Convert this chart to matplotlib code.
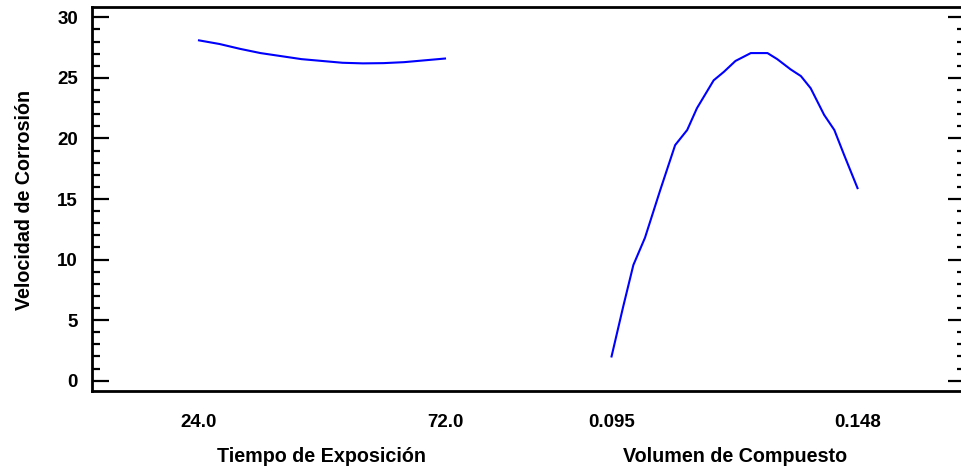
"""Main effects plot for corrosion rate (two factors side by side)."""

import matplotlib
matplotlib.use("Agg")
import matplotlib.pyplot as plt
import matplotlib.transforms as mtransforms
from matplotlib.ticker import MultipleLocator

plt.rcParams["font.family"] = ["Liberation Sans", "DejaVu Sans"]
plt.rcParams["font.weight"] = "bold"

# Factor 1: exposure time (h)
tiempo = [24, 28, 32, 36, 40, 44, 48, 52, 56, 60, 64, 68, 72]
vel_tiempo = [28.1, 27.8, 27.4, 27.05, 26.8, 26.55, 26.4, 26.25, 26.2, 26.22, 26.3, 26.45, 26.6]

# Factor 2: compound volume
volumen = [0.0949, 0.0974, 0.0996, 0.1021, 0.1054, 0.1086, 0.1112, 0.1133, 0.1169, 0.1191,
           0.1216, 0.1249, 0.1285, 0.1306, 0.1335, 0.1357, 0.1378, 0.1407, 0.1429, 0.1450, 0.1479]
vel_volumen = [2.0, 6.1, 9.55, 11.8, 15.75, 19.45, 20.7, 22.5, 24.8, 25.5,
               26.4, 27.05, 27.05, 26.55, 25.7, 25.15, 24.15, 21.95, 20.7, 18.65, 15.9]

factores = ["Tiempo de Exposición", "Volumen de Compuesto"]
bajo = [24.0, 0.095]
alto = [72.0, 0.148]
etiquetas_bajo = ["24.0", "0.095"]
etiquetas_alto = ["72.0", "0.148"]

# each factor is drawn on [offset, offset + 1] in coded units
offsets = [0.0, 1.679]


def coded(vals, lo, hi, off):
    return [off + (v - lo) / (hi - lo) for v in vals]


fig = plt.figure(figsize=(9.61, 4.70), dpi=100)
ax = fig.add_axes([92 / 961, 1 - 390.5 / 470, (965 - 92) / 961, (390.5 - 7.3) / 470])

ax.plot(coded(tiempo, bajo[0], alto[0], offsets[0]), vel_tiempo, color="#0000ff", lw=1.5)
ax.plot(coded(volumen, bajo[1], alto[1], offsets[1]), vel_volumen, color="#0000ff", lw=1.5)

ax.set_xlim(-0.435, 3.114)
ax.set_ylim(-0.81, 30.83)

ticks = []
labels = []
for off, lo_lab, hi_lab in zip(offsets, etiquetas_bajo, etiquetas_alto):
    ticks += [off, off + 1]
    labels += [lo_lab, hi_lab]
ax.set_xticks(ticks)
ax.set_xticklabels(labels, fontsize=13.5, fontweight="bold")
ax.tick_params(axis="x", length=0, pad=17)

ax.yaxis.set_major_locator(MultipleLocator(5))
ax.yaxis.set_minor_locator(MultipleLocator(1))
ax.tick_params(axis="y", which="major", direction="in", length=12.5, width=1.6,
               left=True, right=True, labelsize=13.5, pad=10)
ax.tick_params(axis="y", which="minor", direction="in", length=6, width=1.6,
               left=True, right=True)
for lab in ax.get_yticklabels():
    lab.set_fontweight("bold")

for s in ax.spines.values():
    s.set_linewidth(2)

trans = mtransforms.blended_transform_factory(ax.transData, fig.transFigure)
for off, name in zip(offsets, factores):
    ax.text(off + 0.5, 1 - 456 / 470, name, transform=trans, ha="center", va="center",
            fontsize=14.2, fontweight="bold")

fig.text(25 / 961, 1 - 200 / 470, "Velocidad de Corrosión", rotation=90,
         ha="center", va="center", fontsize=14.2, fontweight="bold")

fig.savefig("out.png", dpi=100)
